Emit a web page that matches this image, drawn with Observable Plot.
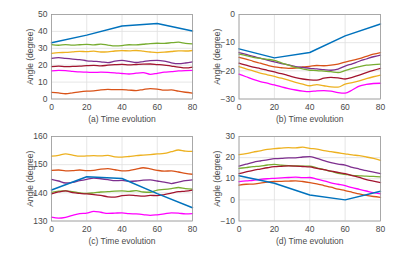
<!DOCTYPE html>
<html>
<head>
<meta charset="utf-8">
<script src="https://cdn.jsdelivr.net/npm/d3@7"></script>
<script src="https://cdn.jsdelivr.net/npm/@observablehq/plot@0.6"></script>
<style>
  html, body { margin: 0; padding: 0; background: #fff; }
  #wrap { position: relative; width: 415px; height: 268px; overflow: hidden; }
  .panel { position: absolute; }
</style>
</head>
<body>
<div id="wrap"></div>
<script>
// time grid for the noisy series (every 4 units)
const times = [0,4,8,12,16,20,24,28,32,36,40,44,48,52,56,60,64,68,72,76,80];
// knots for the piecewise-linear first series
const blueTimes = [0,20,40,60,80];

const seriesNames = ["S1","S2","S3","S4","S5","S6","S7"];
const seriesColors = ["#0072BD","#D95319","#EDB120","#7E2F8E","#77AC30","#A2142F","#FF00FF"];

// Panel (a)
const aBlue    = [33.3, 37.8, 43.2, 44.7, 40.2];
const aOrange  = [3.9, 3.6, 3.1, 3.6, 4.2, 4.6, 4.8, 5.4, 5.7, 5.5, 5.6, 5.3, 5.0, 5.6, 6.1, 5.9, 5.2, 5.4, 4.6, 4.0, 3.5];
const aYellow  = [27.0, 27.4, 27.6, 27.9, 28.2, 28.0, 28.3, 27.8, 27.9, 28.4, 28.6, 28.5, 28.7, 28.3, 27.8, 27.5, 27.7, 28.1, 28.5, 28.4, 28.7];
const aPurple  = [24.1, 24.5, 24.0, 23.6, 23.3, 22.6, 22.3, 22.0, 21.5, 22.4, 22.8, 22.3, 21.6, 22.1, 22.7, 22.9, 22.4, 21.4, 20.9, 21.3, 22.0];
const aGreen   = [32.2, 31.8, 32.2, 31.9, 32.1, 32.3, 32.0, 32.5, 31.9, 31.4, 31.6, 32.1, 32.0, 32.4, 32.8, 33.0, 32.9, 33.3, 33.6, 32.9, 32.6];
const aDarkred = [19.2, 19.5, 19.1, 19.3, 19.4, 19.7, 19.9, 19.6, 20.0, 20.3, 20.5, 20.2, 20.4, 20.6, 20.7, 20.4, 20.1, 19.5, 18.9, 18.4, 18.9];
const aMagenta = [16.6, 16.9, 16.8, 16.4, 16.0, 15.9, 15.7, 15.9, 15.8, 15.5, 15.1, 14.8, 15.3, 15.6, 14.6, 15.2, 15.9, 16.2, 16.6, 16.8, 16.9];

// Panel (b)
const bBlue    = [-12.2, -15.4, -13.5, -7.6, -3.4];
const bOrange  = [-15.2, -15.8, -16.6, -17.3, -18.0, -18.6, -18.9, -19.1, -19.0, -18.6, -18.4, -18.1, -18.2, -18.0, -17.6, -16.9, -16.3, -15.7, -14.9, -14.1, -13.5];
const bYellow  = [-18.5, -19.3, -20.0, -20.8, -21.4, -22.0, -22.6, -23.3, -24.1, -24.7, -25.3, -24.9, -25.3, -25.7, -25.8, -24.7, -24.2, -23.6, -22.8, -22.1, -21.5];
const bPurple  = [-13.5, -14.2, -14.9, -15.5, -16.2, -16.8, -17.4, -17.9, -18.5, -18.8, -19.1, -19.3, -19.6, -19.8, -19.4, -18.3, -17.5, -16.6, -15.8, -15.0, -14.4];
const bGreen   = [-14.1, -14.6, -15.2, -15.6, -15.9, -16.3, -17.2, -18.0, -18.8, -19.3, -19.8, -19.9, -20.1, -20.3, -20.6, -19.9, -19.1, -18.5, -18.0, -17.8, -17.6];
const bDarkred = [-17.3, -18.0, -18.7, -19.2, -19.8, -20.4, -21.0, -21.7, -22.4, -22.9, -23.2, -23.3, -22.6, -22.3, -22.5, -22.9, -22.3, -21.5, -20.6, -19.8, -19.1];
const bMagenta = [-21.2, -22.1, -23.0, -23.8, -24.4, -25.0, -25.7, -26.3, -26.8, -27.2, -27.4, -27.1, -27.0, -27.2, -27.7, -27.9, -26.8, -25.4, -24.8, -24.5, -24.4];

// Panel (c)
const cBlue    = [141.0, 145.7, 145.1, 139.7, 134.7];
const cOrange  = [148.0, 148.1, 147.8, 147.9, 148.1, 147.9, 148.0, 148.4, 148.6, 148.2, 147.8, 147.9, 148.4, 148.9, 148.5, 148.0, 147.7, 147.8, 147.4, 146.9, 146.6];
const cYellow  = [153.0, 153.3, 153.8, 153.4, 153.0, 153.1, 153.2, 153.1, 153.3, 152.8, 152.7, 152.9, 153.2, 153.4, 153.6, 153.8, 154.0, 154.6, 155.2, 154.8, 154.7];
const cPurple  = [144.8, 144.2, 143.5, 143.7, 144.3, 144.8, 145.2, 145.0, 144.7, 144.3, 144.4, 144.1, 144.2, 144.5, 144.6, 144.2, 143.8, 143.3, 143.8, 144.3, 144.6];
const cGreen   = [140.2, 140.6, 140.7, 140.4, 140.0, 139.8, 140.0, 140.3, 140.4, 140.6, 140.7, 140.5, 140.8, 140.3, 140.2, 141.0, 141.2, 141.5, 141.9, 141.5, 141.3];
const cDarkred = [139.6, 140.3, 140.7, 140.1, 139.8, 139.6, 139.4, 139.1, 138.6, 138.5, 139.0, 139.2, 139.0, 138.8, 139.1, 139.0, 139.4, 139.9, 140.4, 140.6, 141.0];
const cMagenta = [131.4, 131.0, 131.3, 132.0, 132.6, 132.8, 133.4, 133.1, 132.7, 132.8, 132.9, 132.6, 132.5, 132.3, 132.0, 132.2, 132.5, 132.9, 132.8, 132.5, 132.6];

// Panel (d)
const dBlue    = [11.4, 7.9, 2.3, 0.0, 4.1];
const dOrange  = [7.0, 7.4, 7.5, 7.9, 8.4, 8.7, 8.8, 8.9, 9.0, 8.7, 8.2, 7.6, 6.8, 6.0, 5.1, 4.4, 3.6, 2.8, 2.1, 1.6, 1.2];
const dYellow  = [21.4, 21.9, 22.6, 23.2, 23.9, 24.3, 24.5, 24.7, 24.6, 25.0, 24.4, 24.0, 23.3, 22.8, 22.3, 21.8, 21.3, 20.9, 20.3, 19.6, 18.7];
const dPurple  = [16.0, 16.9, 17.8, 18.4, 18.9, 19.5, 19.6, 19.9, 19.9, 20.3, 20.5, 19.6, 18.6, 17.6, 16.9, 16.5, 15.4, 14.6, 13.8, 13.1, 12.4];
const dGreen   = [14.9, 15.3, 15.7, 16.0, 16.5, 16.8, 16.4, 16.2, 16.1, 16.0, 16.0, 15.2, 14.3, 13.5, 12.6, 12.1, 11.6, 11.4, 11.2, 11.1, 10.9];
const dDarkred = [12.4, 13.2, 14.0, 14.6, 15.2, 15.7, 15.9, 16.1, 16.0, 15.8, 15.6, 14.9, 14.3, 13.6, 13.0, 12.4, 11.5, 10.6, 9.6, 8.9, 8.2];
const dMagenta = [8.6, 9.0, 9.3, 9.7, 10.0, 10.2, 10.4, 10.6, 10.8, 10.5, 10.6, 9.8, 9.0, 8.1, 7.4, 6.7, 5.8, 5.0, 4.2, 3.4, 2.8];

const xTicks = [0,20,40,60,80];

const panels = [
  {caption: "(a) Time evolution", left: 0,   top: 0,   width: 207, ml: 51,   mr: 15,
   yDomain: [0,50], yTicks: [0,10,20,30,40,50],
   blue: aBlue, others: [aOrange,aYellow,aPurple,aGreen,aDarkred,aMagenta]},
  {caption: "(b) Time evolution", left: 205, top: 0,   width: 210, ml: 33.5, mr: 35,
   yDomain: [-30,0], yTicks: [-30,-20,-10,0],
   blue: bBlue, others: [bOrange,bYellow,bPurple,bGreen,bDarkred,bMagenta]},
  {caption: "(c) Time evolution", left: 0,   top: 122, width: 207, ml: 51,   mr: 15,
   yDomain: [130,160], yTicks: [130,140,150,160],
   blue: cBlue, others: [cOrange,cYellow,cPurple,cGreen,cDarkred,cMagenta]},
  {caption: "(d) Time evolution", left: 205, top: 122, width: 210, ml: 33.5, mr: 35,
   yDomain: [-10,30], yTicks: [-10,0,10,20,30],
   blue: dBlue, others: [dOrange,dYellow,dPurple,dGreen,dDarkred,dMagenta]}
];

const wrap = document.getElementById("wrap");
for (const p of panels) {
  const rows = [];
  p.blue.forEach((v, i) => rows.push({t: blueTimes[i], v, s: seriesNames[0]}));
  p.others.forEach((arr, k) => arr.forEach((v, i) => rows.push({t: times[i], v, s: seriesNames[k+1]})));
  const chart = Plot.plot({
    width: p.width, height: 134,
    marginLeft: p.ml, marginRight: p.mr, marginTop: 14, marginBottom: 35.5,
    style: {fontFamily: "'Liberation Sans', Arial, sans-serif", fontSize: "8.5px", color: "#4a4a4a", background: "transparent"},
    x: {domain: [0,80], ticks: xTicks, tickSize: 0, tickPadding: 5, label: p.caption,
        labelAnchor: "center", labelOffset: 23, labelArrow: "none"},
    y: {domain: p.yDomain, ticks: p.yTicks, tickSize: 0, tickPadding: 4, label: "Angle (degree)",
        labelAnchor: "center", labelOffset: 25, labelArrow: "none"},
    color: {domain: seriesNames, range: seriesColors},
    marks: [
      Plot.gridX(xTicks, {stroke: "#e0e0e0", strokeOpacity: 1, strokeWidth: 0.8}),
      Plot.gridY(p.yTicks, {stroke: "#e0e0e0", strokeOpacity: 1, strokeWidth: 0.8}),
      Plot.line(rows.filter(d => d.s !== seriesNames[0]), {x: "t", y: "v", z: "s", stroke: "s", strokeWidth: 1.3, curve: "monotone-x"}),
      Plot.line(rows.filter(d => d.s === seriesNames[0]), {x: "t", y: "v", stroke: "s", strokeWidth: 1.5}),
      Plot.frame({stroke: "#9a9a9a", strokeWidth: 0.8})
    ]
  });
  const div = document.createElement("div");
  div.className = "panel";
  div.style.left = p.left + "px";
  div.style.top = p.top + "px";
  div.appendChild(chart);
  wrap.appendChild(div);
}
</script>
</body>
</html>
